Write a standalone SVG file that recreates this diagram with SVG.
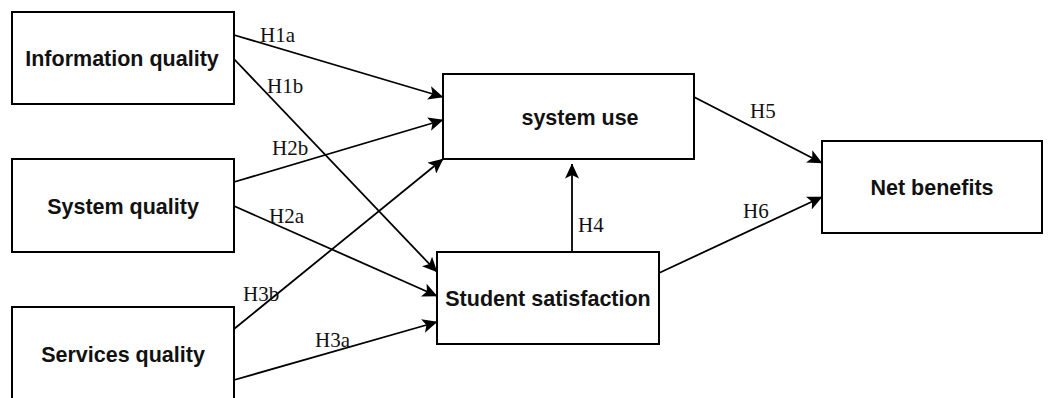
<svg xmlns="http://www.w3.org/2000/svg" width="1048" height="398" viewBox="0 0 1048 398">
<style>
.box{fill:#fff;stroke:#000;stroke-width:2}
.nt{font-family:"Liberation Sans",Arial,sans-serif;font-weight:bold;font-size:21.5px;fill:#111;text-anchor:middle}
.lb{font-family:"Liberation Serif","Times New Roman",serif;font-size:21px;fill:#111}
.ln{stroke:#000;stroke-width:1.8;fill:none;marker-end:url(#ah)}
</style>
<defs>
<marker id="ah" markerUnits="userSpaceOnUse" markerWidth="15" markerHeight="14" viewBox="0 0 15 14" refX="14.5" refY="7" orient="auto">
<path d="M0,0 L15,7 L0,14 L3.5,7 z" fill="#000"/>
</marker>
</defs>
<rect width="1048" height="398" fill="#fff"/>
<g id="connectors">
<line class="ln" x1="234" y1="35" x2="443" y2="97"/>
<line class="ln" x1="234" y1="59" x2="437" y2="272"/>
<line class="ln" x1="234" y1="182" x2="443" y2="120"/>
<line class="ln" x1="234" y1="206" x2="437" y2="296"/>
<line class="ln" x1="234" y1="329" x2="443" y2="159"/>
<line class="ln" x1="234" y1="380" x2="437" y2="322"/>
<line class="ln" x1="572" y1="252" x2="572" y2="164"/>
<line class="ln" x1="694" y1="97" x2="822" y2="163"/>
<line class="ln" x1="659" y1="273" x2="822" y2="197"/>
<text class="lb" x="260" y="42">H1a</text>
<text class="lb" x="267" y="93">H1b</text>
<text class="lb" x="272" y="155">H2b</text>
<text class="lb" x="269" y="223">H2a</text>
<text class="lb" x="243" y="301">H3b</text>
<text class="lb" x="315" y="347">H3a</text>
<text class="lb" x="578" y="232">H4</text>
<text class="lb" x="750" y="118">H5</text>
<text class="lb" x="743" y="218">H6</text>
</g>
<g id="info-quality">
<rect class="box" x="12" y="12" width="222" height="92"/>
<text class="nt" x="122" y="66">Information quality</text>
</g>
<g id="system-quality">
<rect class="box" x="12" y="159" width="222" height="93"/>
<text class="nt" x="123" y="214">System quality</text>
</g>
<g id="services-quality">
<rect class="box" x="12" y="307" width="222" height="100"/>
<text class="nt" x="123" y="362">Services quality</text>
</g>
<g id="system-use">
<rect class="box" x="443" y="74" width="251" height="85"/>
<text class="nt" x="580" y="125">system use</text>
</g>
<g id="student-satisfaction">
<rect class="box" x="437" y="252" width="222" height="92"/>
<text class="nt" x="548" y="306">Student satisfaction</text>
</g>
<g id="net-benefits">
<rect class="box" x="822" y="141" width="220" height="92"/>
<text class="nt" x="932" y="195">Net benefits</text>
</g>
</svg>
